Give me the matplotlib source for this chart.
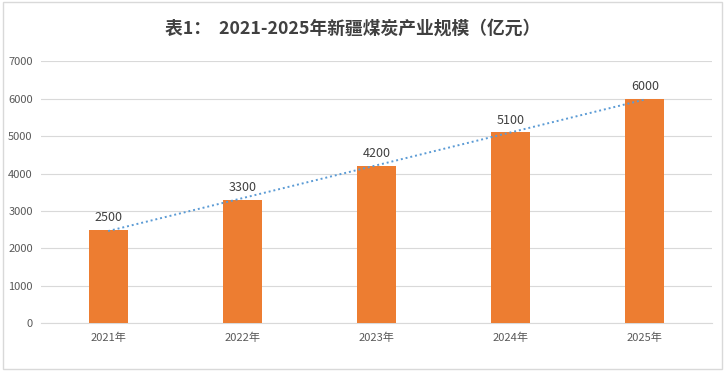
import matplotlib.pyplot as plt
import numpy as np
from matplotlib.patches import Rectangle

plt.rcParams['font.family'] = ['Noto Sans CJK SC', 'DejaVu Sans']

years = ['2021年', '2022年', '2023年', '2024年', '2025年']
values = [2500, 3300, 4200, 5100, 6000]
yticks = [0, 1000, 2000, 3000, 4000, 5000, 6000, 7000]

fig = plt.figure(figsize=(7.25, 3.71), dpi=100)
ax = fig.add_axes([0.0566, 0.1294, 0.9255, 0.7051])

x = np.arange(len(years))
bars = ax.bar(x, values, width=0.29, color='#ED7D31', zorder=3)

# linear trend line, like Excel's
k, b = np.polyfit(x, values, 1)
ax.plot(x, k * x + b, linestyle=(0, (1, 1.5)), color='#5B9BD5', linewidth=1.4, zorder=4)

for xi, v in zip(x, values):
    ax.annotate(str(v), (xi, v), xytext=(0, 4), textcoords='offset points',
                ha='center', va='bottom', fontsize=9, color='#404040')

ax.set_xlim(-0.5, len(years) - 0.5)
ax.set_ylim(0, 7000)
ax.set_yticks(yticks)
ax.set_xticks(x)
ax.set_xticklabels(years)
ax.tick_params(axis='both', length=0, labelsize=8, labelcolor='#595959')
ax.tick_params(axis='y', pad=6)
ax.tick_params(axis='x', pad=7)
ax.grid(axis='y', color='#D9D9D9', linewidth=0.8, zorder=0)
for s in ['top', 'right', 'left']:
    ax.spines[s].set_visible(False)
ax.spines['bottom'].set_color('#D9D9D9')
ax.spines['bottom'].set_linewidth(0.8)

fig.text(0.486, 0.922, '表1：  2021-2025年新疆煤炭产业规模（亿元）', ha='center', va='center',
         fontsize=12.8, fontweight='bold', color='#404040')

# light frame round the whole chart
fig.patches.append(Rectangle((0.004, 0.006), 0.992, 0.988, transform=fig.transFigure,
                             fill=False, edgecolor='#D9D9D9', linewidth=1))

fig.savefig('out.png', dpi=100)
